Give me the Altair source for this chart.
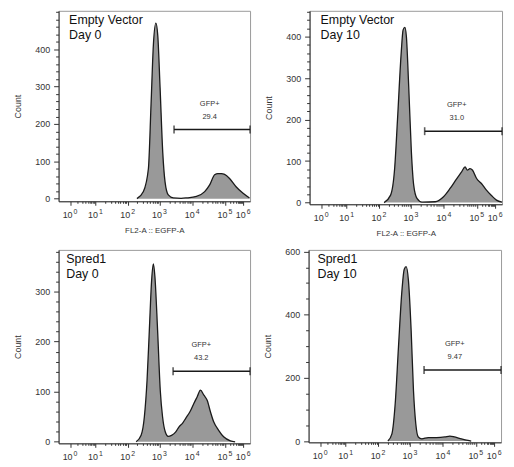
import math
import altair as alt
import pandas as pd

# ---------------- data ----------------
# x positions are display channels (0..1000 across the plot width)
DECADE_POS = [60, 193, 361, 527, 698, 869, 964]   # 10^0 ... 10^6

p1_x = [409, 443, 469, 483, 495, 508, 518, 530, 544, 556, 573, 599, 640, 668, 720, 763, 789, 815, 832, 850, 867, 893, 927, 962, 997]
p1_c = [0, 19, 80, 254, 411, 470, 437, 298, 124, 45, 10, 2, 1, 2, 6, 19, 37, 64, 67, 67, 65, 54, 32, 15, 2]

p2_x = [387, 421, 442, 457, 476, 486, 495, 503, 515, 529, 541, 558, 584, 653, 696, 730, 765, 790, 808, 820, 833, 847, 868, 893, 919, 945, 971, 1000]
p2_c = [0, 18, 82, 201, 360, 416, 422, 400, 281, 122, 42, 10, 1, 2, 14, 34, 58, 74, 86, 78, 82, 78, 58, 46, 30, 17, 6, 1]

p3_x = [405, 431, 448, 462, 474, 486, 495, 503, 517, 531, 543, 557, 572, 590, 612, 629, 647, 664, 686, 707, 724, 741, 759, 776, 793, 810, 836, 862, 897, 922]
p3_c = [0, 13, 50, 123, 223, 323, 355, 330, 223, 103, 50, 20, 11, 13, 20, 30, 37, 47, 60, 77, 90, 103, 93, 83, 60, 40, 23, 10, 2, 0]

p4_x = [412, 433, 450, 467, 485, 497, 507, 519, 533, 545, 557, 570, 588, 622, 665, 708, 734, 759, 794, 828, 845]
p4_c = [0, 23, 118, 297, 476, 544, 552, 507, 349, 160, 55, 13, 7, 11, 11, 13, 16, 13, 7, 2, 0]

panel_x = [p1_x, p2_x, p3_x, p4_x]
panel_c = [p1_c, p2_c, p3_c, p4_c]
names = ["Empty Vector", "Empty Vector", "Spred1", "Spred1"]
days = ["Day 0", "Day 10", "Day 0", "Day 10"]

gate_start = [603, 598, 598, 600]
gate_end = [1000, 1000, 1000, 1000]
gate_level = [185, 172, 141, 225]
gate_name = ["GFP+", "GFP+", "GFP+", "GFP+"]
gate_pct = ["29.4", "31.0", "43.2", "9.47"]

y_lo = [-7, -4, -3, -4]
y_hi = [503, 462, 383, 605]
y_major_step = [100, 100, 100, 200]
y_major_top = [400, 400, 300, 600]
y_minor_step = [20, 20, 20, 50]

# ---------------- layout / style ----------------
label_ch = [55, 57, 40, 46]
gate_label_ch = [789, 765, 745, 760]
WIDTHS = [193, 194, 193, 194]
HEIGHTS = [192, 195, 195, 194]
FILL = "#999999"
LINE = "#1a1a1a"
INK = "#333333"
FONT = "Liberation Sans"

minor_x = []
for a, b in zip(DECADE_POS[:-1], DECADE_POS[1:]):
    for m in range(2, 10):
        minor_x.append(round(a + math.log10(m) * (b - a), 2))

exp_expr = "'' + indexof([" + ",".join(str(v) for v in DECADE_POS) + "], datum.value)"


def panel(i, show_x_title):
    xs = alt.Scale(domain=[0, 1000], nice=False, zero=False)
    ys = alt.Scale(domain=[y_lo[i], y_hi[i]], nice=False, zero=False)

    major_y = list(range(0, y_major_top[i] + 1, y_major_step[i]))
    minor_y = [v for v in range(0, y_hi[i] + 1, y_minor_step[i]) if v not in major_y]

    x_major_axis = alt.Axis(
        orient="bottom", values=DECADE_POS, labelExpr="'10'", grid=False,
        tickSize=4, tickColor=INK, domainColor=INK, labelColor=INK,
        labelFontSize=9, labelPadding=5, labelOffset=-3, labelFlush=False,
        labelOverlap=False, titleFontSize=8, titleFontWeight="normal",
        titleColor=INK, titlePadding=7)
    x_sup_axis = alt.Axis(
        orient="bottom", values=DECADE_POS, labelExpr=exp_expr, grid=False,
        ticks=False, tickSize=0, domain=False, labelColor=INK, labelFontSize=7,
        labelPadding=6, labelOffset=5, labelFlush=False, labelOverlap=False)
    x_minor_axis = alt.Axis(
        orient="bottom", values=minor_x, labels=False, grid=False, domain=False,
        tickSize=2, tickColor=INK)
    y_major_axis = alt.Axis(
        orient="left", values=major_y, grid=False, tickSize=5, tickColor=INK,
        domainColor=INK, labelColor=INK, labelFontSize=9, labelPadding=4,
        titleFontSize=9, titleFontWeight="normal", titleColor=INK,
        titlePadding=12)
    y_minor_axis = alt.Axis(
        orient="left", values=minor_y, labels=False, grid=False, domain=False,
        tickSize=3, tickColor=INK)

    hist = pd.DataFrame({"ch": panel_x[i], "count": panel_c[i]})
    xkw = {"title": "FL2-A :: EGFP-A"} if show_x_title else {"title": None}
    area = alt.Chart(hist).mark_area(
        color=FILL, opacity=1, interpolate="monotone",
        line={"color": LINE, "strokeWidth": 1.3},
    ).encode(
        x=alt.X("ch:Q", scale=xs, axis=x_major_axis, **xkw),
        y=alt.Y("count:Q", scale=ys, axis=y_major_axis, title="Count"),
    )

    gate = pd.DataFrame({
        "gx": [gate_start[i]], "gx2": [gate_end[i]], "gy": [gate_level[i]],
        "lx": [gate_label_ch[i]],
        "name": [gate_name[i]], "pct": [gate_pct[i]],
    })
    rule = alt.Chart(gate).mark_rule(color=LINE, strokeWidth=1.5).encode(
        x=alt.X("gx:Q", scale=xs, axis=x_sup_axis, title=None),
        x2="gx2:Q",
        y=alt.Y("gy:Q", scale=ys, axis=y_minor_axis, title=None),
    )
    caps_df = pd.DataFrame({"cx": [gate_start[i], gate_end[i]],
                            "cy": [gate_level[i], gate_level[i]]})
    caps = alt.Chart(caps_df).mark_tick(
        orient="vertical", color=LINE, size=8, thickness=1.6).encode(
        x=alt.X("cx:Q", scale=xs, axis=x_minor_axis, title=None),
        y=alt.Y("cy:Q", scale=ys, axis=None),
    )
    gate_name_text = alt.Chart(gate).mark_text(
        align="center", baseline="middle", dy=-26, fontSize=7.5,
        color=INK, font=FONT,
    ).encode(
        x=alt.X("lx:Q", scale=xs, axis=None),
        y=alt.Y("gy:Q", scale=ys, axis=None),
        text="name:N",
    )
    gate_pct_text = alt.Chart(gate).mark_text(
        align="center", baseline="middle", dy=-13, fontSize=7.5,
        color=INK, font=FONT,
    ).encode(
        x=alt.X("lx:Q", scale=xs, axis=None),
        y=alt.Y("gy:Q", scale=ys, axis=None),
        text="pct:N",
    )

    title_df = pd.DataFrame({"tx": [label_ch[i]], "ty": [y_hi[i]],
                             "t": [names[i] + "\n" + days[i]]})
    title = alt.Chart(title_df).mark_text(
        align="left", baseline="top", dy=3, fontSize=12.5, lineHeight=15,
        lineBreak="\n", color="#111111", font=FONT,
    ).encode(
        x=alt.X("tx:Q", scale=xs, axis=None),
        y=alt.Y("ty:Q", scale=ys, axis=None),
        text="t:N",
    )

    return alt.layer(area, rule, caps, gate_name_text, gate_pct_text, title).resolve_axis(
        x="independent", y="independent"
    ).properties(width=WIDTHS[i], height=HEIGHTS[i])


row1 = alt.hconcat(panel(0, True), panel(1, True), spacing=11)
row2 = alt.hconcat(panel(2, False), panel(3, False), spacing=11)
chart = alt.vconcat(row1, row2, spacing=9).properties(
    padding={"left": 5, "top": 0, "right": 0, "bottom": 0},
    background="white",
).configure(font=FONT).configure_view(stroke="#9a9a9a", strokeWidth=1)

chart.save("out.html", embed_options={"renderer": "svg", "actions": False})
